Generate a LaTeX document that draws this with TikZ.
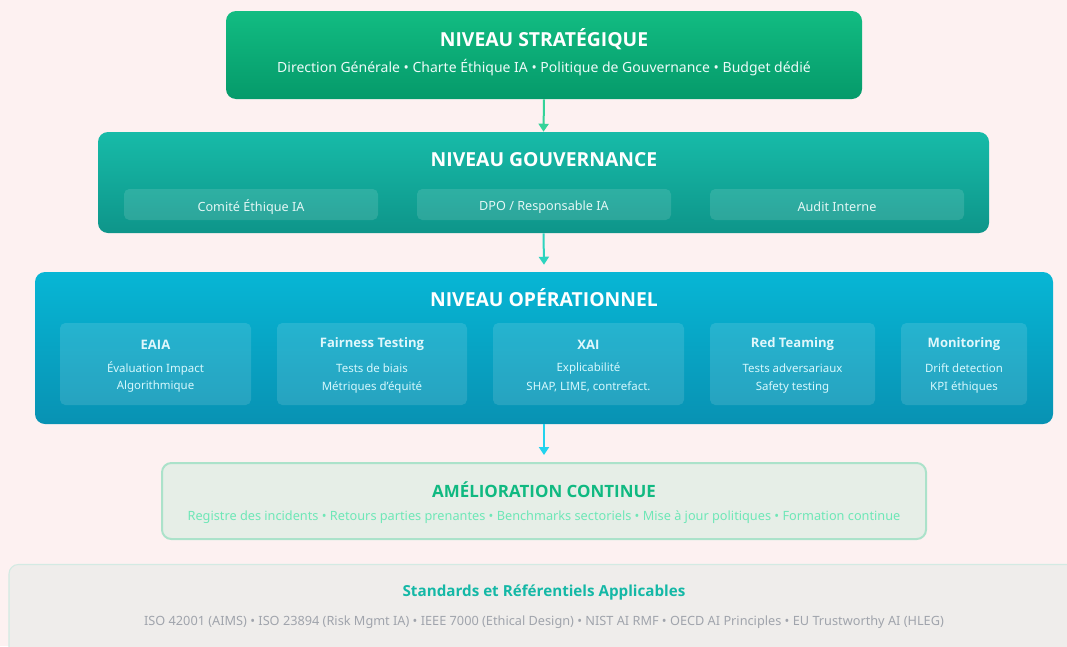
\documentclass[tikz,border=0pt]{standalone}
\usepackage{fontspec}
\setmainfont{Noto Sans}
\newfontfamily\hfont{Open Sans}
\usetikzlibrary{arrows.meta}
\definecolor{bg}{HTML}{FDF1F1}
\definecolor{sA}{HTML}{12BC82}
\definecolor{sB}{HTML}{059A6A}
\definecolor{gA}{HTML}{17BBA8}
\definecolor{gB}{HTML}{0E958A}
\definecolor{oA}{HTML}{07B6D5}
\definecolor{oB}{HTML}{0892B3}
\definecolor{arA}{HTML}{34D399}
\definecolor{arB}{HTML}{2DD4BF}
\definecolor{arC}{HTML}{22D3EE}
\definecolor{amFill}{HTML}{E6EEE7}
\definecolor{amLine}{HTML}{ABE2CA}
\definecolor{amTitle}{HTML}{10B981}
\definecolor{amText}{HTML}{6EE7B7}
\definecolor{stFill}{HTML}{EFEDEB}
\definecolor{stLine}{HTML}{D3EAE3}
\definecolor{stTitle}{HTML}{14B8A6}
\definecolor{stText}{HTML}{A0A4AC}
\definecolor{cardT}{HTML}{E0F7FB}
\definecolor{cardL}{HTML}{D6F8FD}
\tikzset{
  px/.style={x=0.75pt,y=-0.75pt},
  layer/.style 2 args={rounded corners=7.5pt, shading angle=160, top color=#1, bottom color=#2, inner sep=0pt},
  sub/.style={fill=white, fill opacity=0.12, rounded corners=4pt, inner sep=0pt, draw=none},
  ttl/.style={text=white, font=\hfont\bfseries\fontsize{14.5}{17}\selectfont, inner sep=0pt},
  stxt/.style={text=white!92!gA, font=\fontsize{10.5}{12}\selectfont, inner sep=0pt},
  gtxt/.style={text=white!88!gA, font=\fontsize{9.5}{12}\selectfont, inner sep=0pt},
  ctt/.style={text=cardT, font=\hfont\bfseries\fontsize{9.8}{12}\selectfont, inner sep=0pt},
  ctl/.style={text=cardL, font=\fontsize{8.6}{10}\selectfont, inner sep=0pt},
  conn/.style={line width=1.5pt, -{Triangle[length=6pt,width=7.5pt]}},
}
\begin{document}
\begin{tikzpicture}[px]
\useasboundingbox (0,0) rectangle (1067,646);
\clip (0,0) rectangle (1067,646);
\fill[bg] (0,0) rectangle (1067,646);

% Strategic
\node[layer={sA}{sB}, minimum width={636*0.75pt}, minimum height={88*0.75pt}] (strat) at (544,55) {};
\node[ttl] (stratT) at (544,39) {NIVEAU STRATÉGIQUE};
\node[stxt] (stratS) at (544,67.5) {Direction Générale • Charte Éthique IA • Politique de Gouvernance • Budget dédié};

% Governance
\node[layer={gA}{gB}, minimum width={891*0.75pt}, minimum height={101*0.75pt}] (gov) at (543.5,182.5) {};
\node[ttl] (govT) at (544,160) {NIVEAU GOUVERNANCE};
\node[sub, minimum width={254*0.75pt}, minimum height={31*0.75pt}] (g1) at (251,204.5) {};
\node[sub, minimum width={254*0.75pt}, minimum height={31*0.75pt}] (g2) at (544,204.5) {};
\node[sub, minimum width={254*0.75pt}, minimum height={31*0.75pt}] (g3) at (837,204.5) {};
\node[gtxt] (g1t) at (251,207) {Comité Éthique IA};
\node[gtxt] (g2t) at (544,207) {DPO / Responsable IA};
\node[gtxt] (g3t) at (837,207) {Audit Interne};

% Operational
\node[layer={oA}{oB}, minimum width={1018*0.75pt}, minimum height={152*0.75pt}] (op) at (544,348) {};
\node[ttl] (opT) at (544,297.5) {NIVEAU OPÉRATIONNEL};
\foreach \n/\cx/\w/\t/\la/\lb in {
  c1/155.5/191/EAIA/Évaluation Impact/Algorithmique,
  c2/372/190/Fairness Testing/Tests de biais/Métriques d'équité,
  c3/588.5/191/XAI/Explicabilité/{SHAP, LIME, contrefact.},
  c4/792.5/165/Red Teaming/Tests adversariaux/Safety testing,
  c5/964/126/Monitoring/Drift detection/KPI éthiques}{
  \node[sub, minimum width={\w*0.75pt}, minimum height={82*0.75pt}] (\n) at (\cx,364) {};
  \node[ctt] (\n t) at (\cx,344.5) {\t};
  \node[ctl] (\n a) at (\cx,368) {\la};
  \node[ctl] (\n b) at (\cx,387) {\lb};
}

% Amelioration
\node[draw=amLine, line width=1.5pt, fill=amFill, rounded corners=7pt, minimum width={764*0.75pt}, minimum height={76*0.75pt}, inner sep=0pt] (am) at (544,501) {};
\node[text=amTitle, font=\hfont\bfseries\fontsize{12.7}{15}\selectfont, inner sep=0pt] (amT) at (544,489.5) {AMÉLIORATION CONTINUE};
\node[text=amText, font=\fontsize{9.55}{12}\selectfont, inner sep=0pt] (amS) at (544,517) {Registre des incidents • Retours parties prenantes • Benchmarks sectoriels • Mise à jour politiques • Formation continue};

% Standards
\node[draw=stLine, line width=0.8pt, fill=stFill, rounded corners=7pt, minimum width={1070*0.75pt}, minimum height={95*0.75pt}, inner sep=0pt] (std) at (544,612) {};
\node[text=stTitle, font=\hfont\bfseries\fontsize{11.4}{14}\selectfont, inner sep=0pt] (stdT) at (544,592.5) {Standards et Référentiels Applicables};
\node[text=stText, font=\fontsize{9.55}{11}\selectfont, inner sep=0pt] (stdS) at (544,622) {ISO 42001 (AIMS) • ISO 23894 (Risk Mgmt IA) • IEEE 7000 (Ethical Design) • NIST AI RMF • OECD AI Principles • EU Trustworthy AI (HLEG)};

% connectors
\draw[conn, arA] (strat.south) -- (gov.north);
\draw[conn, arB] (gov.south) -- ([yshift=5.25pt]op.north);
\draw[conn, arC] (op.south) -- ([yshift=5.25pt]am.north);
\end{tikzpicture}
\end{document}
